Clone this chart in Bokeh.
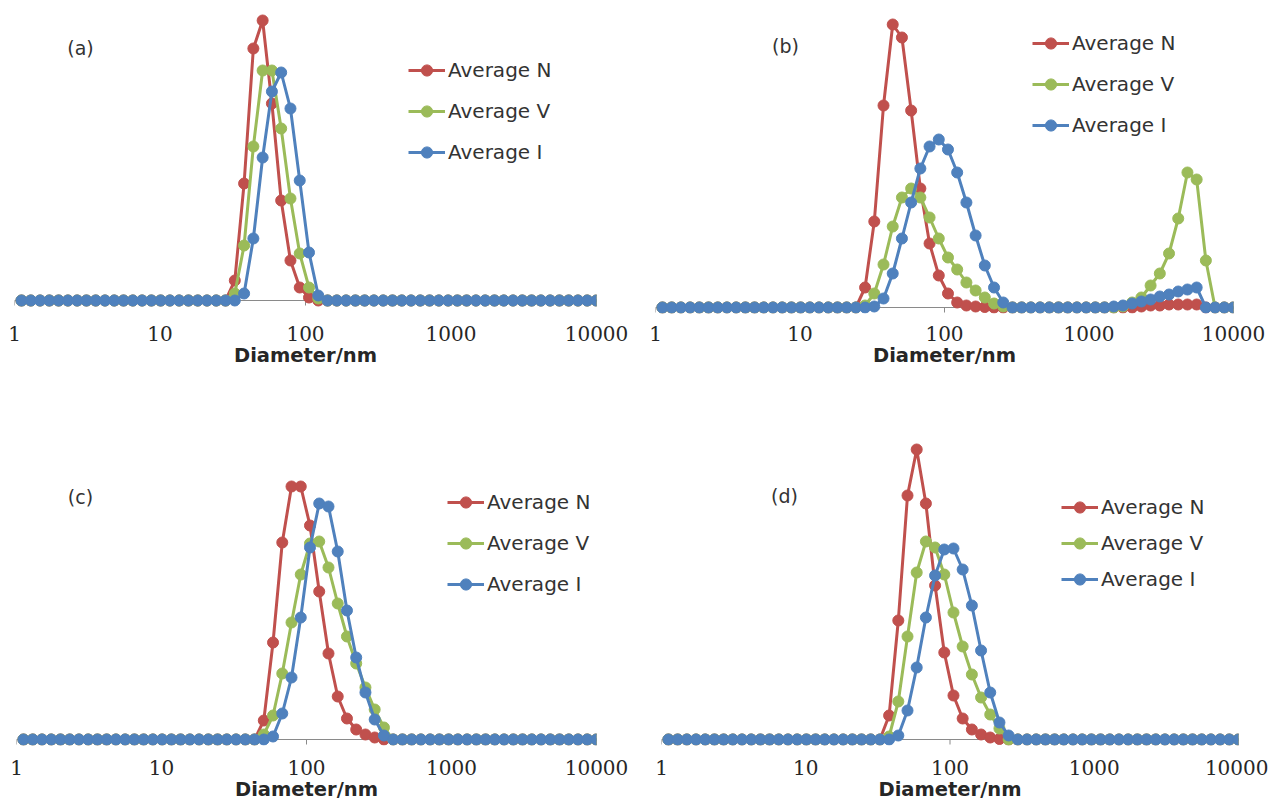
from bokeh.plotting import figure
from bokeh.layouts import row, column
from bokeh.models import Legend, LegendItem, Label, Span, FixedTicker, NumeralTickFormatter, Range1d
from bokeh.embed import file_html
from bokeh.resources import INLINE

# Size bins (nm)
SIZES = [1.117, 1.294, 1.499, 1.736, 2.010, 2.328, 2.696, 3.122, 3.615, 4.187,
         4.849, 5.615, 6.503, 7.531, 8.721, 10.10, 11.70, 13.54, 15.69, 18.17,
         21.04, 24.36, 28.21, 32.67, 37.84, 43.82, 50.75, 58.77, 68.06, 78.82,
         91.28, 105.7, 122.4, 141.8, 164.2, 190.1, 220.2, 255.0, 295.3, 342.0,
         396.1, 458.7, 531.2, 615.1, 712.4, 825.0, 955.4, 1106, 1281, 1484,
         1718, 1990, 2305, 2669, 3091, 3580, 4145, 4801, 5560, 6439,
         7456, 8635, 10000]

TICKS = [1, 10, 100, 1000, 10000]
TICK_TOP = [0, 0, 0, 0, 0]
TICK_BOTTOM = [-0.5, -0.5, -0.5, -0.5, -0.5]
SERIES_NAMES = ["Average N", "Average V", "Average I"]
PANEL_TAGS = ["(a)", "(b)", "(c)", "(d)"]
X_LABEL = "Diameter/nm"

# ---- panel (a)
A_N = [0, 0, 0, 0, 0, 0, 0, 0, 0, 0, 0, 0, 0, 0, 0, 0, 0, 0, 0, 0, 0, 0,
       0, 2.0, 11.7, 25.2, 28.0, 19.7, 10.0, 4.0, 1.3, 0.3,
       0, 0, 0, 0, 0, 0, 0, 0, 0, 0, 0, 0, 0, 0, 0, 0, 0, 0, 0, 0, 0, 0, 0, 0, 0, 0, 0, 0, 0, 0, 0]
A_V = [0, 0, 0, 0, 0, 0, 0, 0, 0, 0, 0, 0, 0, 0, 0, 0, 0, 0, 0, 0, 0, 0,
       0, 0.7, 5.5, 15.4, 23.0, 23.0, 17.2, 10.2, 4.7, 1.3, 0.2,
       0, 0, 0, 0, 0, 0, 0, 0, 0, 0, 0, 0, 0, 0, 0, 0, 0, 0, 0, 0, 0, 0, 0, 0, 0, 0, 0, 0, 0, 0]
A_I = [0, 0, 0, 0, 0, 0, 0, 0, 0, 0, 0, 0, 0, 0, 0, 0, 0, 0, 0, 0, 0, 0,
       0, 0, 0.7, 6.2, 14.3, 20.9, 22.8, 19.2, 12.0, 4.8, 0.5,
       0, 0, 0, 0, 0, 0, 0, 0, 0, 0, 0, 0, 0, 0, 0, 0, 0, 0, 0, 0, 0, 0, 0, 0, 0, 0, 0, 0, 0, 0]

# ---- panel (b)
B_N = [0, 0, 0, 0, 0, 0, 0, 0, 0, 0, 0, 0, 0, 0, 0, 0, 0, 0, 0, 0, 0, 0,
       2.0, 8.6, 20.2, 28.3, 27.0, 19.7, 11.9, 6.4, 3.2, 1.4,
       0.5, 0.2, 0.1, 0.05,
       0, 0, 0, 0, 0, 0, 0, 0, 0, 0, 0, 0, 0, 0, 0, 0,
       0.1, 0.2, 0.2, 0.3, 0.3, 0.3, 0.3,
       0, 0, 0, 0]
B_V = [0, 0, 0, 0, 0, 0, 0, 0, 0, 0, 0, 0, 0, 0, 0, 0, 0, 0, 0, 0, 0, 0,
       0.2, 1.4, 4.3, 8.1, 11.0, 11.9, 11.0, 9.0, 6.9, 5.0,
       3.8, 2.5, 1.7, 1.0, 0.4, 0.1,
       0, 0, 0, 0, 0, 0, 0, 0, 0, 0, 0, 0,
       0.1, 0.5, 1.0, 2.2, 3.4, 5.4, 8.9, 13.5, 12.8, 4.7,
       0, 0, 0]
B_I = [0, 0, 0, 0, 0, 0, 0, 0, 0, 0, 0, 0, 0, 0, 0, 0, 0, 0, 0, 0, 0, 0,
       0, 0.1, 0.9, 3.4, 6.9, 10.5, 13.9, 16.1, 16.8, 15.8,
       13.5, 10.5, 7.2, 4.2, 2.0, 0.5,
       0, 0, 0, 0, 0, 0, 0, 0, 0, 0, 0,
       0.1, 0.2, 0.4, 0.6, 0.8, 1.1, 1.3, 1.6, 1.8, 2.0,
       0, 0, 0, 0]

# ---- panel (c)
C_N = [0, 0, 0, 0, 0, 0, 0, 0, 0, 0, 0, 0, 0, 0, 0, 0, 0, 0, 0, 0, 0, 0,
       0, 0, 0, 0, 1.9, 9.7, 19.7, 25.3, 25.3, 21.4, 14.8, 8.6, 4.3, 2.1, 1.0, 0.5, 0.2, 0,
       0, 0, 0, 0, 0, 0, 0, 0, 0, 0, 0, 0, 0, 0, 0, 0, 0, 0, 0, 0, 0, 0, 0]
C_V = [0, 0, 0, 0, 0, 0, 0, 0, 0, 0, 0, 0, 0, 0, 0, 0, 0, 0, 0, 0, 0, 0,
       0, 0, 0, 0, 0.5, 2.4, 6.6, 11.7, 16.5, 19.6, 19.8, 17.2, 13.6, 10.3, 7.6, 5.2, 3.0, 1.2, 0,
       0, 0, 0, 0, 0, 0, 0, 0, 0, 0, 0, 0, 0, 0, 0, 0, 0, 0, 0, 0, 0, 0]
C_I = [0, 0, 0, 0, 0, 0, 0, 0, 0, 0, 0, 0, 0, 0, 0, 0, 0, 0, 0, 0, 0, 0,
       0, 0, 0, 0, 0, 0.3, 2.6, 6.2, 12.2, 19.2, 23.6, 23.3, 18.8, 12.9, 8.2, 4.7, 2.0, 0.4, 0,
       0, 0, 0, 0, 0, 0, 0, 0, 0, 0, 0, 0, 0, 0, 0, 0, 0, 0, 0, 0, 0, 0]

# ---- panel (d)
D_N = [0, 0, 0, 0, 0, 0, 0, 0, 0, 0, 0, 0, 0, 0, 0, 0, 0, 0, 0, 0, 0, 0,
       0, 0, 2.4, 11.9, 24.4, 29.0, 23.6, 15.4, 8.7, 4.4, 2.1, 1.0, 0.5, 0.2, 0.05, 0,
       0, 0, 0, 0, 0, 0, 0, 0, 0, 0, 0, 0, 0, 0, 0, 0, 0, 0, 0, 0, 0, 0, 0, 0, 0]
D_V = [0, 0, 0, 0, 0, 0, 0, 0, 0, 0, 0, 0, 0, 0, 0, 0, 0, 0, 0, 0, 0, 0,
       0, 0, 0.3, 3.8, 10.3, 16.7, 19.8, 19.2, 16.5, 12.7, 9.3, 6.5, 4.2, 2.5, 1.1, 0,
       0, 0, 0, 0, 0, 0, 0, 0, 0, 0, 0, 0, 0, 0, 0, 0, 0, 0, 0, 0, 0, 0, 0, 0, 0]
D_I = [0, 0, 0, 0, 0, 0, 0, 0, 0, 0, 0, 0, 0, 0, 0, 0, 0, 0, 0, 0, 0, 0,
       0, 0, 0, 0.4, 2.9, 7.2, 12.2, 16.4, 19.0, 19.1, 17.0, 13.4, 8.9, 4.7, 1.7, 0.4, 0,
       0, 0, 0, 0, 0, 0, 0, 0, 0, 0, 0, 0, 0, 0, 0, 0, 0, 0, 0, 0, 0, 0, 0, 0]

DATA = [(A_N, A_V, A_I), (B_N, B_V, B_I), (C_N, C_V, C_I), (D_N, D_V, D_I)]
for trio in DATA:
    for s in trio:
        assert len(s) == len(SIZES), len(s)

COLORS = ["#C0504D", "#9BBB59", "#4F81BD"]
TEXT = "#262626"
AXIS_GRAY = "#8a8a8a"

# layout specs (pixels)
SPECS = [
    dict(w=640, h=420, bl=14, br=44, bt=10, bb=107, y0=-1.3, y1=29.0, leg=(394, 147), sp=13, tag=(66, 266), std=12),
    dict(w=628, h=420, bl=15, br=35, bt=10, bb=107, y0=-0.6, y1=29.7, leg=(377, 174), sp=13, tag=(130, 268), std=12),
    dict(w=640, h=387, bl=16, br=44, bt=10, bb=62, y0=-0.6, y1=30.9, leg=(431, 147), sp=13, tag=(64, 249), std=14),
    dict(w=628, h=387, bl=21, br=30, bt=10, bb=62, y0=-0.6, y1=30.9, leg=(400, 152), sp=8, tag=(123, 250), std=14),
]

figs = []
for k, (spec, trio) in enumerate(zip(SPECS, DATA)):
    p = figure(width=spec["w"], height=spec["h"], x_axis_type="log",
               x_range=Range1d(1, 10000), y_range=Range1d(spec["y0"], spec["y1"]),
               output_backend="svg", toolbar_location=None,
               min_border_left=spec["bl"], min_border_right=spec["br"],
               min_border_top=spec["bt"], min_border_bottom=spec["bb"],
               y_axis_location=None)
    p.outline_line_color = None
    p.xgrid.visible = False
    p.ygrid.visible = False
    p.background_fill_color = "white"
    p.border_fill_color = "white"

    # horizontal axis line at zero and its tick marks (drawn under the data)
    p.add_layout(Span(location=0, dimension="width", line_color=AXIS_GRAY,
                      line_width=1, level="underlay"))
    p.segment(x0=TICKS, y0=TICK_TOP, x1=TICKS, y1=TICK_BOTTOM,
              line_color=AXIS_GRAY, line_width=1)

    ax = p.xaxis[0]
    ax.ticker = FixedTicker(ticks=TICKS, minor_ticks=[])
    ax.formatter = NumeralTickFormatter(format="0")
    ax.axis_line_color = None
    ax.major_tick_line_color = None
    ax.minor_tick_line_color = None
    ax.major_tick_in = 0
    ax.major_tick_out = 0
    ax.major_label_text_font = "DejaVu Serif"
    ax.major_label_text_font_size = "20px"
    ax.major_label_text_color = TEXT
    ax.major_label_standoff = spec["std"]
    ax.axis_label = X_LABEL
    ax.axis_label_text_font = "DejaVu Sans"
    ax.axis_label_text_font_style = "bold"
    ax.axis_label_text_font_size = "19.5px"
    ax.axis_label_text_color = TEXT
    ax.axis_label_standoff = 0

    items = []
    for name, ys, col in zip(SERIES_NAMES, trio, COLORS):
        ln = p.line(SIZES, ys, line_color=col, line_width=3)
        sc = p.scatter(SIZES, ys, size=11, fill_color=col, line_color=col)
        items.append(LegendItem(label=name, renderers=[ln, sc]))

    leg = Legend(items=items, location=spec["leg"], orientation="vertical",
                 glyph_width=37, glyph_height=28, label_height=28,
                 label_standoff=3, spacing=spec["sp"], padding=0, margin=0,
                 border_line_color=None, background_fill_alpha=0,
                 label_text_font="DejaVu Sans", label_text_font_size="20px",
                 label_text_color="#333333")
    p.add_layout(leg)

    p.add_layout(Label(x=spec["tag"][0], y=spec["tag"][1],
                       x_units="screen", y_units="screen", text=PANEL_TAGS[k],
                       text_align="center", text_baseline="middle",
                       text_font="DejaVu Sans", text_font_size="19px", text_color="#333333"))
    figs.append(p)

layout = column(row(figs[0], figs[1]), row(figs[2], figs[3]))
open("out.html", "w").write(file_html(layout, INLINE))
